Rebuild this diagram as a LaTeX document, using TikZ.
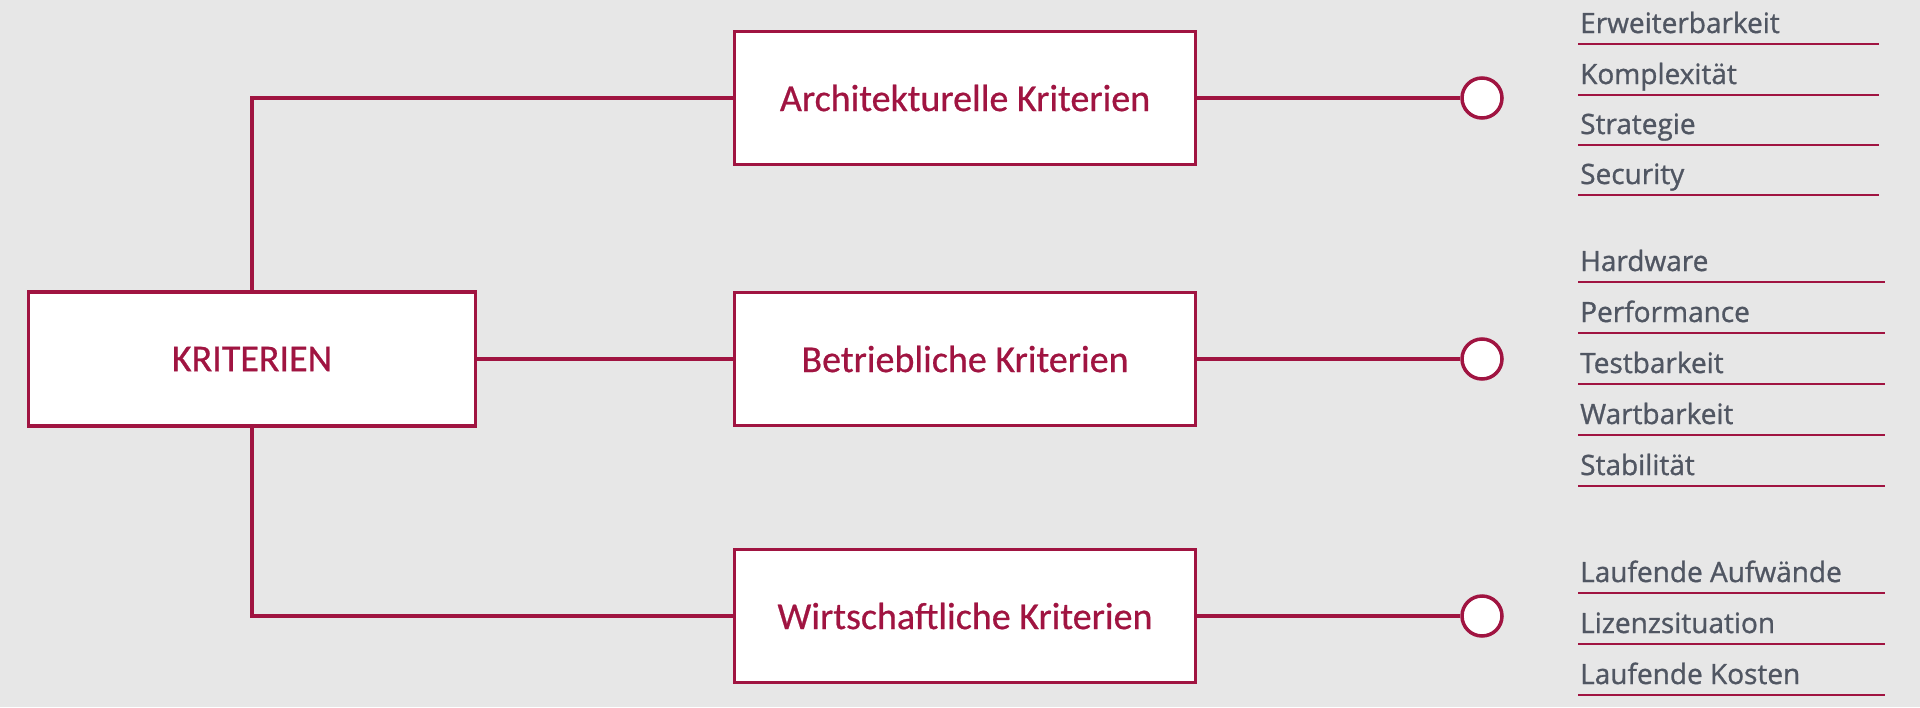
\documentclass[tikz,border=0pt]{standalone}
\usepackage{fontspec}
\setmainfont{Open Sans}
\newfontfamily\merkmalfont{Open Sans}[FakeBold=1]
\newfontfamily\boxfont{Carlito}[FakeBold=0.6]
\definecolor{kritred}{HTML}{A01441}
\definecolor{kritgrey}{HTML}{505662}
\definecolor{kritbg}{HTML}{E7E7E7}
\tikzset{
  hauptbox/.style={draw=kritred, fill=white, line width=3.5pt, minimum width=447pt,
    minimum height=134pt, text=kritred, font=\boxfont\fontsize{38}{40}\selectfont},
  kritbox/.style={hauptbox, minimum width=461pt, minimum height=133pt},
  ast/.style={draw=kritred, line width=3.5pt},
  punkt/.style={circle, draw=kritred, fill=white, line width=3.5pt, minimum size=40pt, inner sep=0pt},
  merkmal/.style={anchor=base west, inner sep=0pt, text=kritgrey, font=\merkmalfont\fontsize{28}{30}\selectfont},
  strich/.style={draw=kritred, line width=2pt},
}
\begin{document}
\begin{tikzpicture}[x=1pt,y=-1pt]
\fill[kritbg] (0,0) rectangle (1920,707) ;
% Hauptknoten und Kriteriengruppen
\node[hauptbox] (krit) at (252,359) {KRITERIEN} ;
\node[kritbox]  (arch) at (965,98)  {Architekturelle Kriterien} ;
\node[kritbox]  (betr) at (965,359) {Betriebliche Kriterien} ;
\node[kritbox]  (wirt) at (965,616) {Wirtschaftliche Kriterien} ;
\node[punkt] (parch) at (1482,98)  {} ;
\node[punkt] (pbetr) at (1482,359) {} ;
\node[punkt] (pwirt) at (1482,616) {} ;
\draw[ast] (krit.north) |- (arch.west) ;
\draw[ast] (krit.east)  -- (betr.west) ;
\draw[ast] (krit.south) |- (wirt.west) ;
\draw[ast] (arch) -- (parch) ;
\draw[ast] (betr) -- (pbetr) ;
\draw[ast] (wirt) -- (pwirt) ;
% Merkmale
\foreach \name/\y [count=\i] in {Erweiterbarkeit/44, Komplexität/95, Strategie/145, Security/195} {
  \node[merkmal] (a\i) at (1580,\y-11) {\name} ;
  \draw[strich] (1578,\y) -- (1879,\y) ;
}
\foreach \name/\y [count=\i] in {Hardware/282, Performance/333, Testbarkeit/384, Wartbarkeit/435, Stabilität/486} {
  \node[merkmal] (b\i) at (1580,\y-11) {\name} ;
  \draw[strich] (1578,\y) -- (1885,\y) ;
}
\foreach \name/\y [count=\i] in {Laufende Aufwände/593, Lizenzsituation/644, Laufende Kosten/695} {
  \node[merkmal] (w\i) at (1580,\y-11) {\name} ;
  \draw[strich] (1578,\y) -- (1885,\y) ;
}
\end{tikzpicture}
\end{document}
